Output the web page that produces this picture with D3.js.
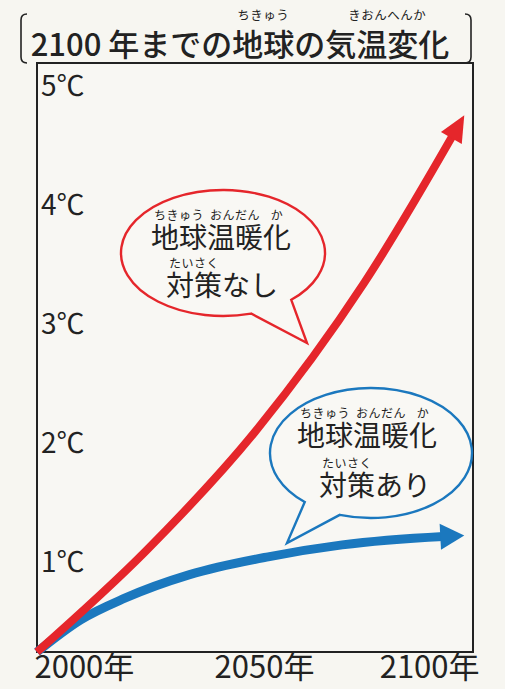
<!DOCTYPE html>
<html>
<head>
<meta charset="utf-8">
<script src="https://cdn.jsdelivr.net/npm/d3@7"></script>
<style>
  body { margin: 0; background: #f7f6f1; }
  svg { display: block; font-family: "Noto Sans CJK JP", "Noto Sans", sans-serif; }
</style>
</head>
<body>
<div id="container"></div>
<script>
// values
const xTicks = [2000, 2050, 2100];
const yTicks = [1, 2, 3, 4, 5];
const redYears = [2000, 2025, 2050, 2075, 2098];
const redValues = [0.25, 1.1, 2.1, 3.35, 4.76];
const blueYears = [2000, 2010, 2020, 2035, 2053, 2070, 2098];
const blueValues = [0.25, 0.52, 0.70, 0.90, 1.05, 1.15, 1.23];

const titleParts = [["2100 年までの", ""], ["地球", "ちきゅう"], ["の", ""], ["気温変化", "きおんへんか"]];
const redLabel = [
  [["地球", "ちきゅう"], ["温暖", "おんだん"], ["化", "か"]],
  [["対策", "たいさく"], ["なし", ""]]
];
const blueLabel = [
  [["地球", "ちきゅう"], ["温暖", "おんだん"], ["化", "か"]],
  [["対策", "たいさく"], ["あり", ""]]
];

function main() {
  const width = 505, height = 689;
  const red = "#e5262b", blue = "#1b78be", ink = "#222";
  const frame = {left: 37, right: 473, top: 63, bottom: 652};

  const svg = d3.select("#container").append("svg")
      .attr("width", width)
      .attr("height", height);

  svg.append("rect").attr("width", width).attr("height", height).attr("fill", "#f7f6f1");

  const xScale = d3.scaleLinear().domain([2000, 2100]).range([frame.left, frame.right]);
  const yScale = d3.scaleLinear().domain([0.25, 5.2]).range([frame.bottom, frame.top]);

  // text with furigana above chosen groups
  function rubyText(parts, x, y, size, rubySize, rubyGap, weight) {
    const g = svg.append("g");
    const t = g.append("text")
        .attr("x", x).attr("y", y)
        .attr("text-anchor", "middle")
        .attr("font-size", size)
        .attr("font-weight", weight || 400)
        .attr("fill", ink)
        .text(parts.map(p => p[0]).join(""));
    const node = t.node();
    let idx = 0;
    parts.forEach(([base, ruby]) => {
      if (ruby) {
        const x0 = node.getStartPositionOfChar(idx).x;
        const x1 = node.getEndPositionOfChar(idx + base.length - 1).x;
        g.append("text")
            .attr("x", (x0 + x1) / 2)
            .attr("y", y - rubyGap)
            .attr("text-anchor", "middle")
            .attr("font-size", rubySize)
            .attr("letter-spacing", 0.5)
            .attr("fill", ink)
            .text(ruby);
      }
      idx += base.length;
    });
  }

  // title and its brackets
  rubyText(titleParts, 240, 56, 31, 12.5, 36, 500);
  svg.append("path")
      .attr("d", "M27,14 Q21,14 21,20 L21,57 Q21,63 27,63 M465,14 Q471,14 471,20 L471,57 Q471,63 465,63")
      .attr("fill", "none")
      .attr("stroke", ink)
      .attr("stroke-width", 1.6);

  // frame
  svg.append("rect")
      .attr("x", frame.left).attr("y", frame.top)
      .attr("width", frame.right - frame.left)
      .attr("height", frame.bottom - frame.top)
      .attr("fill", "#f8f7f3")
      .attr("stroke", ink)
      .attr("stroke-width", 2);

  // y labels inside the frame
  const yAxis = svg.append("g")
      .attr("transform", `translate(${frame.left + 4},0)`)
      .call(d3.axisRight(yScale).tickValues(yTicks).tickSize(0).tickPadding(0).tickFormat(d => d + "℃"))
      .attr("font-family", null);
  yAxis.select(".domain").remove();
  yAxis.selectAll("text")
      .attr("font-size", 28)
      .attr("fill", ink);

  // x labels under the frame
  const xAxis = svg.append("g")
      .attr("transform", `translate(0,${frame.bottom})`)
      .call(d3.axisBottom(xScale).tickValues(xTicks).tickSize(0).tickPadding(4).tickFormat(d => d + "年"))
      .attr("font-family", null);
  xAxis.select(".domain").remove();
  xAxis.selectAll("text")
      .attr("font-size", 31)
      .attr("fill", ink)
      .attr("text-anchor", (d, i) => i === 0 ? "start" : i === xTicks.length - 1 ? "end" : "middle")
      .attr("dx", (d, i) => i === 0 ? -3 : i === xTicks.length - 1 ? 6 : 9);

  // speech bubbles
  function bubble(cx, cy, rx, ry, a0, a1, tip, color) {
    const pa = [cx + rx * Math.cos(a0 * Math.PI / 180), cy + ry * Math.sin(a0 * Math.PI / 180)];
    const pb = [cx + rx * Math.cos(a1 * Math.PI / 180), cy + ry * Math.sin(a1 * Math.PI / 180)];
    svg.append("path")
        .attr("d", `M${pa} A${rx},${ry} 0 1 1 ${pb} L${tip} Z`)
        .attr("fill", "#f9f8f4")
        .attr("stroke", color)
        .attr("stroke-width", 2.4)
        .attr("stroke-linejoin", "miter");
  }
  bubble(223, 253, 102, 63, 74, 48, [307, 343], red);
  bubble(371, 453, 101, 65, 131, 108, [287, 543], blue);

  rubyText(redLabel[0], 221, 248, 28, 12, 28);
  rubyText(redLabel[1], 222, 296, 28, 12, 28);
  rubyText(blueLabel[0], 367, 446, 28, 12, 28);
  rubyText(blueLabel[1], 375, 496, 28, 12, 28);

  // lines with arrow heads
  const line = d3.line()
      .x(d => xScale(d[0]))
      .y(d => yScale(d[1]))
      .curve(d3.curveMonotoneX);

  function arrowLine(years, values, color, strokeW, headLen, headHalf) {
    const data = years.map((y, i) => [y, values[i]]);
    const path = svg.append("path")
        .datum(data)
        .attr("fill", "none")
        .attr("stroke", color)
        .attr("stroke-width", strokeW)
        .attr("d", line);
    const node = path.node();
    const L = node.getTotalLength();
    path.attr("stroke-dasharray", `${L - headLen + 3} ${L}`);
    const tip = node.getPointAtLength(L);
    const back = node.getPointAtLength(L - headLen);
    const dx = tip.x - back.x, dy = tip.y - back.y;
    const len = Math.hypot(dx, dy);
    const ux = dx / len, uy = dy / len;
    const bx = tip.x - ux * headLen, by = tip.y - uy * headLen;
    svg.append("path")
        .attr("d", `M${tip.x},${tip.y} L${bx - uy * headHalf},${by + ux * headHalf} L${bx + uy * headHalf},${by - ux * headHalf} Z`)
        .attr("fill", color);
  }

  arrowLine(blueYears, blueValues, blue, 9, 24, 13);
  arrowLine(redYears, redValues, red, 8, 26, 12);
}

main();
</script>
</body>
</html>
